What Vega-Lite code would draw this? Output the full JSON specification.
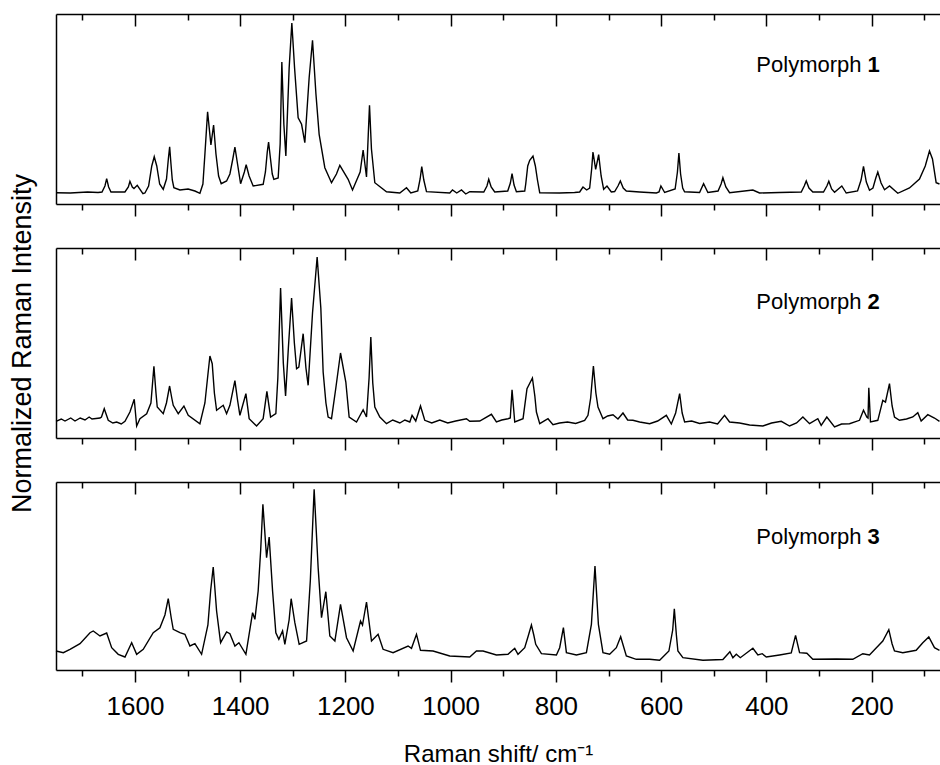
{
  "$schema": "https://vega.github.io/schema/vega-lite/v6.json",
  "padding": {"left": 7, "top": 13, "right": 0, "bottom": 0},
  "background": "white",
  "spacing": 44,
  "bounds": "flush",
  "config": {
    "view": {"stroke": null},
    "axis": {
      "grid": false,
      "domainColor": "black",
      "domainWidth": 1.5,
      "tickColor": "black",
      "tickWidth": 1.5,
      "labelFont": "Liberation Sans",
      "labelFontSize": 26,
      "labelColor": "black",
      "titleFont": "Liberation Sans",
      "titleFontWeight": "normal",
      "titleColor": "black"
    }
  },
  "datasets": {
    "p1": [
      {"shift":1750,"intensity":11.3},{"shift":1723,"intensity":11},{"shift":1690,"intensity":12},{"shift":1670,"intensity":11.5},{"shift":1662.6,"intensity":12},{"shift":1657,"intensity":18},{"shift":1653.7,"intensity":25.3},{"shift":1650,"intensity":17},{"shift":1645.5,"intensity":12},{"shift":1619,"intensity":12},{"shift":1612.5,"intensity":17},{"shift":1609.5,"intensity":22.7},{"shift":1605,"intensity":17},{"shift":1601.8,"intensity":15.5},{"shift":1595.6,"intensity":18.7},{"shift":1584.8,"intensity":10.3},{"shift":1581,"intensity":11},{"shift":1574,"intensity":18},{"shift":1568,"intensity":38},{"shift":1563.3,"intensity":47.3},{"shift":1558.5,"intensity":38},{"shift":1553,"intensity":20},{"shift":1546.2,"intensity":14.7},{"shift":1540,"intensity":25},{"shift":1536.5,"intensity":45},{"shift":1534,"intensity":57.3},{"shift":1531.5,"intensity":40},{"shift":1529,"intensity":24},{"shift":1526,"intensity":16.3},{"shift":1514.5,"intensity":14},{"shift":1499,"intensity":15},{"shift":1486,"intensity":13},{"shift":1476.5,"intensity":10.7},{"shift":1470.8,"intensity":20},{"shift":1467,"intensity":50},{"shift":1461.9,"intensity":92.3},{"shift":1455.6,"intensity":59},{"shift":1450.5,"intensity":79},{"shift":1446,"intensity":50},{"shift":1441,"intensity":28},{"shift":1436,"intensity":20.3},{"shift":1425.8,"intensity":23},{"shift":1419.5,"intensity":30},{"shift":1414,"intensity":45},{"shift":1410,"intensity":57},{"shift":1405,"intensity":40},{"shift":1399.2,"intensity":20.3},{"shift":1392,"intensity":32},{"shift":1388.6,"intensity":39.3},{"shift":1383,"intensity":28},{"shift":1375.3,"intensity":18},{"shift":1356.3,"intensity":19.7},{"shift":1352,"intensity":32},{"shift":1348.5,"intensity":52},{"shift":1346,"intensity":62},{"shift":1343,"intensity":48},{"shift":1339,"intensity":30},{"shift":1336,"intensity":24.7},{"shift":1327.8,"intensity":26},{"shift":1324,"intensity":60},{"shift":1320.8,"intensity":142},{"shift":1317,"intensity":80},{"shift":1313.2,"intensity":48},{"shift":1306.9,"intensity":136},{"shift":1301.8,"intensity":181},{"shift":1296.6,"intensity":136},{"shift":1289.8,"intensity":86.3},{"shift":1283.3,"intensity":79.7},{"shift":1277.1,"intensity":61.3},{"shift":1268.9,"intensity":126.3},{"shift":1262.5,"intensity":163.7},{"shift":1256,"intensity":110},{"shift":1249.9,"intensity":69.7},{"shift":1239.1,"intensity":36.3},{"shift":1226.4,"intensity":21.3},{"shift":1217,"intensity":30},{"shift":1210.6,"intensity":38.7},{"shift":1194.8,"intensity":24.7},{"shift":1186.5,"intensity":14},{"shift":1172,"intensity":32},{"shift":1166.3,"intensity":54},{"shift":1159.9,"intensity":27},{"shift":1156.5,"intensity":70},{"shift":1154.2,"intensity":98.7},{"shift":1150.5,"intensity":55},{"shift":1144.1,"intensity":21.3},{"shift":1121.9,"intensity":12.3},{"shift":1096.6,"intensity":11},{"shift":1083.9,"intensity":16.3},{"shift":1075.7,"intensity":11},{"shift":1062.5,"intensity":13},{"shift":1058,"intensity":25},{"shift":1054.9,"intensity":37.3},{"shift":1051,"intensity":24},{"shift":1045.9,"intensity":12.3},{"shift":1001.7,"intensity":11},{"shift":996.5,"intensity":14},{"shift":988.4,"intensity":11},{"shift":979.4,"intensity":14},{"shift":971.3,"intensity":10},{"shift":963.7,"intensity":12.3},{"shift":937,"intensity":12},{"shift":931,"intensity":18},{"shift":927.6,"intensity":24.7},{"shift":923,"intensity":17},{"shift":916.2,"intensity":12},{"shift":891.5,"intensity":13},{"shift":886.5,"intensity":21},{"shift":883.3,"intensity":30.3},{"shift":879.5,"intensity":19},{"shift":875,"intensity":12.3},{"shift":859.2,"intensity":13},{"shift":857.3,"intensity":20},{"shift":853.5,"intensity":38},{"shift":849.7,"intensity":43.7},{"shift":843.5,"intensity":48},{"shift":839,"intensity":38},{"shift":835,"intensity":24},{"shift":830.7,"intensity":11.3},{"shift":793,"intensity":11},{"shift":764.5,"intensity":11.5},{"shift":754.8,"intensity":12},{"shift":748.5,"intensity":17},{"shift":741.5,"intensity":14},{"shift":735.8,"intensity":16},{"shift":732,"intensity":35},{"shift":729.5,"intensity":52},{"shift":724.4,"intensity":34.7},{"shift":718.7,"intensity":49.3},{"shift":714,"intensity":28},{"shift":709.2,"intensity":14.7},{"shift":702.9,"intensity":18},{"shift":694.6,"intensity":12},{"shift":688.3,"intensity":12.5},{"shift":682,"intensity":18},{"shift":677.5,"intensity":23},{"shift":672,"intensity":16},{"shift":666.1,"intensity":13},{"shift":640.8,"intensity":12},{"shift":609.1,"intensity":11},{"shift":604,"intensity":12},{"shift":600.4,"intensity":18},{"shift":593.3,"intensity":11.5},{"shift":573.4,"intensity":15},{"shift":569,"intensity":32},{"shift":566.2,"intensity":51},{"shift":563,"intensity":30},{"shift":559,"intensity":16},{"shift":555.4,"intensity":12.3},{"shift":526.9,"intensity":11.5},{"shift":519.3,"intensity":20.3},{"shift":511.1,"intensity":11.5},{"shift":491.8,"intensity":13},{"shift":486,"intensity":20},{"shift":482.6,"intensity":26.3},{"shift":477,"intensity":17},{"shift":469.9,"intensity":11.3},{"shift":425.6,"intensity":14},{"shift":413,"intensity":11},{"shift":375,"intensity":11.5},{"shift":333.7,"intensity":12},{"shift":328,"intensity":18},{"shift":324.2,"intensity":23},{"shift":319,"intensity":16},{"shift":311.7,"intensity":12},{"shift":291.4,"intensity":12},{"shift":285,"intensity":18},{"shift":281.3,"intensity":22.7},{"shift":276,"intensity":15},{"shift":270.4,"intensity":11.7},{"shift":256.6,"intensity":18},{"shift":248.2,"intensity":11},{"shift":226.7,"intensity":13},{"shift":220,"intensity":24},{"shift":215.4,"intensity":37.7},{"shift":210,"intensity":22},{"shift":204,"intensity":13.7},{"shift":197.4,"intensity":16},{"shift":192,"intensity":26},{"shift":188.2,"intensity":32},{"shift":182,"intensity":21},{"shift":175.4,"intensity":14.3},{"shift":165.9,"intensity":18},{"shift":150.2,"intensity":10.7},{"shift":128,"intensity":16},{"shift":109,"intensity":25},{"shift":98,"intensity":38},{"shift":90,"intensity":53},{"shift":84.3,"intensity":45},{"shift":77.3,"intensity":21.3},{"shift":71,"intensity":20}
    ],
    "p2": [
      {"shift":1750,"intensity":16.7},{"shift":1740,"intensity":19},{"shift":1732.9,"intensity":17},{"shift":1722,"intensity":20},{"shift":1713.9,"intensity":17},{"shift":1704,"intensity":20},{"shift":1694.9,"intensity":18},{"shift":1687,"intensity":21},{"shift":1681.6,"intensity":19},{"shift":1666.4,"intensity":20},{"shift":1663.6,"intensity":21},{"shift":1658.3,"intensity":29.3},{"shift":1650.7,"intensity":17.7},{"shift":1642,"intensity":15},{"shift":1634.7,"intensity":16},{"shift":1626,"intensity":14},{"shift":1618.9,"intensity":16.7},{"shift":1609.5,"intensity":26},{"shift":1601.3,"intensity":38.7},{"shift":1596.7,"intensity":12},{"shift":1590.5,"intensity":19.3},{"shift":1577.7,"intensity":24.3},{"shift":1569.6,"intensity":35},{"shift":1563.9,"intensity":71.7},{"shift":1560,"intensity":45},{"shift":1557.6,"intensity":31},{"shift":1546.2,"intensity":24.3},{"shift":1540.1,"intensity":35},{"shift":1534.1,"intensity":52},{"shift":1530,"intensity":40},{"shift":1527.2,"intensity":32.7},{"shift":1517.7,"intensity":24.3},{"shift":1506.9,"intensity":32},{"shift":1498.7,"intensity":22.7},{"shift":1476.5,"intensity":14.3},{"shift":1467,"intensity":35},{"shift":1461,"intensity":65},{"shift":1457.5,"intensity":82},{"shift":1453.1,"intensity":74.3},{"shift":1449,"intensity":45},{"shift":1444.8,"intensity":27.7},{"shift":1432.2,"intensity":32.7},{"shift":1425.8,"intensity":24.3},{"shift":1419.5,"intensity":32.7},{"shift":1410,"intensity":57.3},{"shift":1405,"intensity":38},{"shift":1400.5,"intensity":22.7},{"shift":1389.1,"intensity":44.3},{"shift":1382.9,"intensity":19.3},{"shift":1368.8,"intensity":12},{"shift":1356.3,"intensity":19.3},{"shift":1349.2,"intensity":46.7},{"shift":1342.2,"intensity":21},{"shift":1332.2,"intensity":24.3},{"shift":1328.4,"intensity":60},{"shift":1323.2,"intensity":150},{"shift":1318,"intensity":75},{"shift":1313.7,"intensity":42},{"shift":1308.4,"intensity":90},{"shift":1302.3,"intensity":140},{"shift":1297,"intensity":95},{"shift":1292.8,"intensity":69.3},{"shift":1288.5,"intensity":71},{"shift":1280.3,"intensity":104.3},{"shift":1275,"intensity":70},{"shift":1270.8,"intensity":52.7},{"shift":1262.5,"intensity":125},{"shift":1253.7,"intensity":181},{"shift":1246.7,"intensity":130},{"shift":1242.3,"intensity":66},{"shift":1237,"intensity":35},{"shift":1232.8,"intensity":21},{"shift":1226.4,"intensity":19.3},{"shift":1218.2,"intensity":50},{"shift":1209.3,"intensity":85},{"shift":1199.2,"intensity":56},{"shift":1192.9,"intensity":21},{"shift":1178.9,"intensity":16},{"shift":1166.3,"intensity":28.3},{"shift":1159.9,"intensity":21},{"shift":1155,"intensity":60},{"shift":1151.7,"intensity":101},{"shift":1148,"intensity":55},{"shift":1144.1,"intensity":31},{"shift":1134.6,"intensity":21},{"shift":1121.9,"intensity":14.3},{"shift":1110,"intensity":18},{"shift":1096.6,"intensity":15},{"shift":1087,"intensity":18},{"shift":1077.6,"intensity":16},{"shift":1073.3,"intensity":22.7},{"shift":1066.3,"intensity":17},{"shift":1057.3,"intensity":32},{"shift":1049.2,"intensity":17.7},{"shift":1035.9,"intensity":15},{"shift":1020.7,"intensity":18},{"shift":1005.5,"intensity":15},{"shift":990.3,"intensity":17},{"shift":970,"intensity":19.3},{"shift":963.7,"intensity":16.7},{"shift":944.7,"intensity":17},{"shift":922.5,"intensity":23.7},{"shift":913,"intensity":16},{"shift":902.9,"intensity":18},{"shift":891,"intensity":19.3},{"shift":886.7,"intensity":20},{"shift":883.3,"intensity":48.3},{"shift":878.2,"intensity":16},{"shift":862.4,"intensity":19.3},{"shift":854.9,"intensity":49.3},{"shift":844.6,"intensity":60},{"shift":840,"intensity":42},{"shift":837,"intensity":26},{"shift":830.7,"intensity":14.3},{"shift":815,"intensity":19.3},{"shift":805.5,"intensity":13.3},{"shift":793,"intensity":15},{"shift":777.8,"intensity":16},{"shift":762.4,"intensity":14.5},{"shift":745.3,"intensity":17.7},{"shift":739,"intensity":22.7},{"shift":733.9,"intensity":40},{"shift":728.7,"intensity":72},{"shift":724,"intensity":45},{"shift":720,"intensity":31},{"shift":710.5,"intensity":19.3},{"shift":701.6,"intensity":22},{"shift":691.5,"intensity":23.3},{"shift":682,"intensity":19},{"shift":672.5,"intensity":25},{"shift":663.6,"intensity":18},{"shift":653.6,"intensity":17.7},{"shift":640.8,"intensity":16},{"shift":621.8,"intensity":14.3},{"shift":606.6,"intensity":17},{"shift":590.1,"intensity":22.7},{"shift":580.6,"intensity":14},{"shift":572.4,"intensity":25},{"shift":564.8,"intensity":44.3},{"shift":560,"intensity":25},{"shift":555.3,"intensity":16},{"shift":542,"intensity":17},{"shift":526.9,"intensity":14.5},{"shift":507.9,"intensity":16},{"shift":492.7,"intensity":14},{"shift":479.4,"intensity":22.7},{"shift":469.9,"intensity":16},{"shift":450.9,"intensity":15},{"shift":431.9,"intensity":13},{"shift":406.6,"intensity":12},{"shift":390.1,"intensity":15},{"shift":371.7,"intensity":16.7},{"shift":355.9,"intensity":12},{"shift":342.6,"intensity":15},{"shift":330.6,"intensity":21},{"shift":317.9,"intensity":14.3},{"shift":302.2,"intensity":19.3},{"shift":295.8,"intensity":12.7},{"shift":285.1,"intensity":21},{"shift":270.4,"intensity":11},{"shift":257.1,"intensity":14},{"shift":242,"intensity":14.3},{"shift":223,"intensity":17.7},{"shift":215.4,"intensity":27.7},{"shift":209.1,"intensity":21},{"shift":206.8,"intensity":20},{"shift":205.3,"intensity":50.3},{"shift":202.1,"intensity":16},{"shift":188.2,"intensity":17.7},{"shift":178.7,"intensity":37.7},{"shift":173.6,"intensity":36},{"shift":166,"intensity":54.3},{"shift":161,"intensity":32},{"shift":156.5,"intensity":21},{"shift":147,"intensity":17.7},{"shift":133.7,"intensity":19},{"shift":121.7,"intensity":21},{"shift":112.2,"intensity":25.3},{"shift":105.8,"intensity":17},{"shift":93.2,"intensity":23.3},{"shift":80.5,"intensity":20},{"shift":71,"intensity":16.7}
    ],
    "p3": [
      {"shift":1750,"intensity":19},{"shift":1736.1,"intensity":17.3},{"shift":1723.4,"intensity":20.7},{"shift":1704.4,"intensity":26.3},{"shift":1685.4,"intensity":37.3},{"shift":1679.2,"intensity":39},{"shift":1666.4,"intensity":34},{"shift":1653.7,"intensity":37},{"shift":1644.2,"intensity":22.3},{"shift":1631.7,"intensity":15.7},{"shift":1618.9,"intensity":13},{"shift":1606.2,"intensity":27.3},{"shift":1596.7,"intensity":15.7},{"shift":1584.2,"intensity":20.7},{"shift":1565.2,"intensity":37.3},{"shift":1552.5,"intensity":42.3},{"shift":1543,"intensity":55},{"shift":1536.7,"intensity":71.3},{"shift":1531,"intensity":52},{"shift":1527.2,"intensity":40.7},{"shift":1514.5,"intensity":37.3},{"shift":1505,"intensity":35.7},{"shift":1495.5,"intensity":24},{"shift":1486,"intensity":26.3},{"shift":1473.3,"intensity":15.7},{"shift":1461.3,"intensity":45},{"shift":1456,"intensity":80},{"shift":1451.2,"intensity":103},{"shift":1444.8,"intensity":59},{"shift":1437.2,"intensity":27.3},{"shift":1425.8,"intensity":38},{"shift":1419.5,"intensity":36.3},{"shift":1410,"intensity":24},{"shift":1402.4,"intensity":27.3},{"shift":1389.1,"intensity":15.7},{"shift":1376.4,"intensity":57.3},{"shift":1372,"intensity":50.7},{"shift":1365.8,"intensity":79},{"shift":1361,"intensity":120},{"shift":1356.8,"intensity":165.7},{"shift":1349.8,"intensity":112.3},{"shift":1344.9,"intensity":133},{"shift":1338.4,"intensity":79},{"shift":1332.2,"intensity":37.3},{"shift":1326.5,"intensity":30.7},{"shift":1319.4,"intensity":39},{"shift":1315.1,"intensity":25.7},{"shift":1307,"intensity":50},{"shift":1303.1,"intensity":71.3},{"shift":1296.1,"intensity":47.3},{"shift":1287.9,"intensity":25.7},{"shift":1273.8,"intensity":29},{"shift":1266.6,"intensity":90},{"shift":1259.4,"intensity":180.7},{"shift":1251.8,"intensity":102.3},{"shift":1245.4,"intensity":52.3},{"shift":1237.2,"intensity":78.3},{"shift":1229.6,"intensity":34},{"shift":1220,"intensity":29},{"shift":1209.3,"intensity":65.7},{"shift":1197.9,"intensity":32.3},{"shift":1185.3,"intensity":19},{"shift":1171.3,"intensity":49},{"shift":1167.5,"intensity":45},{"shift":1159.9,"intensity":68},{"shift":1150.4,"intensity":29},{"shift":1137.9,"intensity":35.7},{"shift":1128.4,"intensity":20.7},{"shift":1109.4,"intensity":17.3},{"shift":1080.9,"intensity":24},{"shift":1074.4,"intensity":21.7},{"shift":1064.9,"intensity":35.7},{"shift":1057.3,"intensity":19.7},{"shift":1033.4,"intensity":19},{"shift":1001.7,"intensity":14},{"shift":963.7,"intensity":13},{"shift":951,"intensity":19},{"shift":938.4,"intensity":19},{"shift":913,"intensity":15},{"shift":891,"intensity":15.7},{"shift":878.2,"intensity":21.7},{"shift":872,"intensity":15.7},{"shift":859.2,"intensity":22.3},{"shift":852,"intensity":35},{"shift":846.5,"intensity":45},{"shift":842,"intensity":35},{"shift":838.3,"intensity":25.7},{"shift":827.5,"intensity":16.3},{"shift":799,"intensity":15},{"shift":792.8,"intensity":22.3},{"shift":785.7,"intensity":42.3},{"shift":780,"intensity":17.3},{"shift":761,"intensity":15},{"shift":742,"intensity":17.3},{"shift":732.5,"intensity":45.7},{"shift":725.7,"intensity":104},{"shift":719.2,"intensity":45.7},{"shift":710.5,"intensity":17.3},{"shift":697.8,"intensity":15.7},{"shift":685.1,"intensity":22.3},{"shift":676.9,"intensity":33.3},{"shift":666.1,"intensity":14},{"shift":647.1,"intensity":10.7},{"shift":621.8,"intensity":10.7},{"shift":602.8,"intensity":9.7},{"shift":585.2,"intensity":19},{"shift":578,"intensity":40},{"shift":574.9,"intensity":61.3},{"shift":571,"intensity":35},{"shift":568.1,"intensity":19},{"shift":558.6,"intensity":12.3},{"shift":520.6,"intensity":9.7},{"shift":482.6,"intensity":10.5},{"shift":469.3,"intensity":18.3},{"shift":463.6,"intensity":12.3},{"shift":457.1,"intensity":15.7},{"shift":449.5,"intensity":12.3},{"shift":425.6,"intensity":21.7},{"shift":416.1,"intensity":15},{"shift":407.8,"intensity":16.3},{"shift":400.2,"intensity":13},{"shift":374.9,"intensity":15},{"shift":352.7,"intensity":17},{"shift":344.5,"intensity":34.7},{"shift":336.9,"intensity":17.3},{"shift":323,"intensity":16.7},{"shift":311.7,"intensity":10.7},{"shift":267.2,"intensity":11},{"shift":235.7,"intensity":10.7},{"shift":216.7,"intensity":16.3},{"shift":204,"intensity":15},{"shift":178.7,"intensity":29},{"shift":167.3,"intensity":40.3},{"shift":161,"intensity":26},{"shift":156.5,"intensity":19},{"shift":140.7,"intensity":17.3},{"shift":115.3,"intensity":19.7},{"shift":102.7,"intensity":27.3},{"shift":91.3,"intensity":33},{"shift":80.5,"intensity":22.3},{"shift":71,"intensity":19.7}
    ]
  },
  "vconcat": [
    {
      "width": 884, "height": 190,
      "resolve": {"axis": {"x": "independent"}},
      "layer": [
        {
          "data": {"name": "p1"},
          "mark": {"type": "line", "color": "black", "strokeWidth": 1.4},
          "encoding": {
            "x": {"field": "shift", "type": "quantitative",
              "scale": {"domain": [70, 1750], "reverse": true, "nice": false, "zero": false},
              "axis": {"orient": "bottom", "values": [1600,1400,1200,1000,800,600,400,200], "labels": false, "title": null, "tickSize": 12}},
            "y": {"field": "intensity", "type": "quantitative",
              "scale": {"domain": [0, 190], "nice": false, "zero": false},
              "axis": {"title": null, "ticks": false, "labels": false, "domain": true}}
          }
        },
        {
          "data": {"values": [{}]},
          "mark": {"type": "text", "align": "left", "baseline": "alphabetic", "font": "Liberation Sans", "fontSize": 22, "color": "black", "text": "Polymorph"},
          "encoding": {
            "x": {"datum": 419, "type": "quantitative",
              "axis": {"orient": "top", "values": [1600,1400,1200,1000,800,600,400,200], "labels": false, "title": null, "tickSize": -12}},
            "y": {"datum": 132.3, "type": "quantitative"}
          }
        },
        {
          "data": {"values": [{}]},
          "mark": {"type": "text", "align": "left", "baseline": "alphabetic", "font": "Liberation Sans", "fontSize": 22, "fontWeight": "bold", "color": "black", "text": "1"},
          "encoding": {
            "x": {"datum": 208, "type": "quantitative",
              "axis": {"orient": "bottom", "values": [1700,1500,1300,1100,900,700,500,300,100], "labels": false, "title": null, "tickSize": 6, "domain": false}},
            "y": {"datum": 132.3, "type": "quantitative"}
          }
        },
        {
          "data": {"values": [{}]},
          "mark": {"type": "text", "text": ""},
          "encoding": {
            "x": {"datum": 208, "type": "quantitative",
              "axis": {"orient": "top", "values": [1700,1500,1300,1100,900,700,500,300,100], "labels": false, "title": null, "tickSize": -6, "domain": false}},
            "y": {"datum": 132.3, "type": "quantitative"}
          }
        }
      ]
    },
    {
      "width": 884, "height": 190,
      "resolve": {"axis": {"x": "independent"}},
      "layer": [
        {
          "data": {"name": "p2"},
          "mark": {"type": "line", "color": "black", "strokeWidth": 1.4},
          "encoding": {
            "x": {"field": "shift", "type": "quantitative",
              "scale": {"domain": [70, 1750], "reverse": true, "nice": false, "zero": false},
              "axis": {"orient": "bottom", "values": [1600,1400,1200,1000,800,600,400,200], "labels": false, "title": null, "tickSize": 12}},
            "y": {"field": "intensity", "type": "quantitative",
              "scale": {"domain": [0, 190], "nice": false, "zero": false},
              "axis": {"title": "Normalized Raman Intensity", "titleFontSize": 27, "titlePadding": 20, "ticks": false, "labels": false, "domain": true}}
          }
        },
        {
          "data": {"values": [{}]},
          "mark": {"type": "text", "align": "left", "baseline": "alphabetic", "font": "Liberation Sans", "fontSize": 22, "color": "black", "text": "Polymorph"},
          "encoding": {
            "x": {"datum": 419, "type": "quantitative",
              "axis": {"orient": "top", "values": [1600,1400,1200,1000,800,600,400,200], "labels": false, "title": null, "tickSize": -12}},
            "y": {"datum": 129.3, "type": "quantitative"}
          }
        },
        {
          "data": {"values": [{}]},
          "mark": {"type": "text", "align": "left", "baseline": "alphabetic", "font": "Liberation Sans", "fontSize": 22, "fontWeight": "bold", "color": "black", "text": "2"},
          "encoding": {
            "x": {"datum": 208, "type": "quantitative",
              "axis": {"orient": "bottom", "values": [1700,1500,1300,1100,900,700,500,300,100], "labels": false, "title": null, "tickSize": 6, "domain": false}},
            "y": {"datum": 129.3, "type": "quantitative"}
          }
        },
        {
          "data": {"values": [{}]},
          "mark": {"type": "text", "text": ""},
          "encoding": {
            "x": {"datum": 208, "type": "quantitative",
              "axis": {"orient": "top", "values": [1700,1500,1300,1100,900,700,500,300,100], "labels": false, "title": null, "tickSize": -6, "domain": false}},
            "y": {"datum": 129.3, "type": "quantitative"}
          }
        }
      ]
    },
    {
      "width": 884, "height": 188,
      "resolve": {"axis": {"x": "independent"}},
      "layer": [
        {
          "data": {"name": "p3"},
          "mark": {"type": "line", "color": "black", "strokeWidth": 1.4},
          "encoding": {
            "x": {"field": "shift", "type": "quantitative",
              "scale": {"domain": [70, 1750], "reverse": true, "nice": false, "zero": false},
              "axis": {"orient": "bottom", "values": [1600,1400,1200,1000,800,600,400,200], "format": "d", "labelPadding": 11, "labelFlush": false, "labelOverlap": false,
                "title": "Raman shift/ cm⁻¹", "titleFontSize": 24, "titlePadding": 23, "tickSize": 12}},
            "y": {"field": "intensity", "type": "quantitative",
              "scale": {"domain": [0, 188], "nice": false, "zero": false},
              "axis": {"title": null, "ticks": false, "labels": false, "domain": true}}
          }
        },
        {
          "data": {"values": [{}]},
          "mark": {"type": "text", "align": "left", "baseline": "alphabetic", "font": "Liberation Sans", "fontSize": 22, "color": "black", "text": "Polymorph"},
          "encoding": {
            "x": {"datum": 419, "type": "quantitative",
              "axis": {"orient": "top", "values": [1600,1400,1200,1000,800,600,400,200], "labels": false, "title": null, "tickSize": -12}},
            "y": {"datum": 125.7, "type": "quantitative"}
          }
        },
        {
          "data": {"values": [{}]},
          "mark": {"type": "text", "align": "left", "baseline": "alphabetic", "font": "Liberation Sans", "fontSize": 22, "fontWeight": "bold", "color": "black", "text": "3"},
          "encoding": {
            "x": {"datum": 208, "type": "quantitative",
              "axis": {"orient": "bottom", "values": [1700,1500,1300,1100,900,700,500,300,100], "labels": false, "title": null, "tickSize": 6, "domain": false}},
            "y": {"datum": 125.7, "type": "quantitative"}
          }
        },
        {
          "data": {"values": [{}]},
          "mark": {"type": "text", "text": ""},
          "encoding": {
            "x": {"datum": 208, "type": "quantitative",
              "axis": {"orient": "top", "values": [1700,1500,1300,1100,900,700,500,300,100], "labels": false, "title": null, "tickSize": -6, "domain": false}},
            "y": {"datum": 125.7, "type": "quantitative"}
          }
        }
      ]
    }
  ]
}
